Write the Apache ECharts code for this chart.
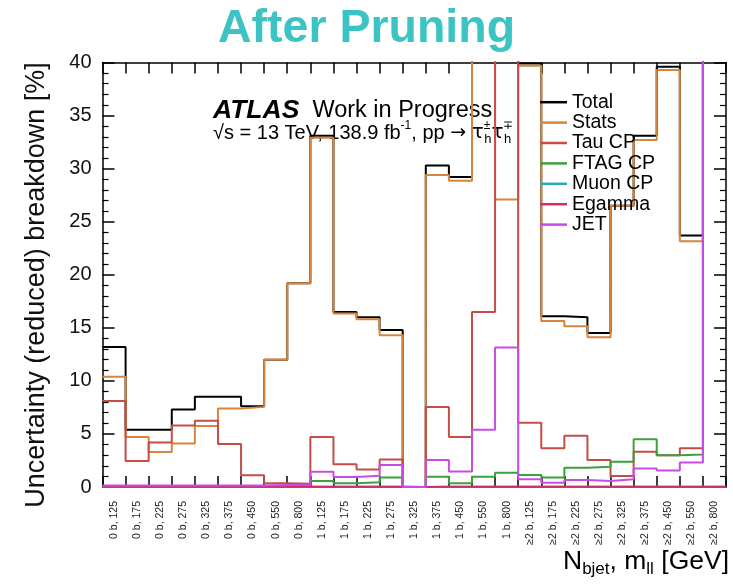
<!DOCTYPE html>
<html>
<head>
<meta charset="utf-8">
<script src="https://cdn.jsdelivr.net/npm/echarts@6/dist/echarts.min.js"></script>
<style>html,body{margin:0;padding:0;background:#fff}#c{width:733px;height:584px}</style>
</head>
<body>
<div id="c"></div>
<script>
const categories = ['0 b, 125','0 b, 175','0 b, 225','0 b, 275','0 b, 325','0 b, 375','0 b, 450','0 b, 550','0 b, 800',
  '1 b, 125','1 b, 175','1 b, 225','1 b, 275','1 b, 325','1 b, 375','1 b, 450','1 b, 550','1 b, 800',
  '≥2 b, 125','≥2 b, 175','≥2 b, 225','≥2 b, 275','≥2 b, 325','≥2 b, 375','≥2 b, 450','≥2 b, 550','≥2 b, 800'];
const yTicks = [0, 5, 10, 15, 20, 25, 30, 35, 40];
const totalVals  = [13.2, 5.4, 5.4, 7.3, 8.5, 8.5, 7.6, 12.0, 19.2, 33.1, 16.5, 16.0, 14.8, 0, 30.3, 29.2, 48, 48, 39.9, 16.1, 16.0, 14.5, 26.5, 33.1, 39.6, 23.7, 48];
const statsVals  = [10.4, 4.7, 3.3, 4.1, 5.75, 7.4, 7.55, 12.0, 19.2, 32.9, 16.35, 15.8, 14.3, 0, 29.4, 28.85, 48, 27.1, 39.7, 15.65, 15.15, 14.1, 26.5, 32.7, 39.3, 23.15, 48];
const tauVals    = [8.1, 2.45, 4.2, 5.8, 6.25, 4.05, 1.1, 0.35, 0.3, 4.7, 2.15, 1.65, 2.6, 0, 7.55, 4.7, 16.5, 48, 6.05, 3.64, 4.83, 2.54, 1.03, 3.32, 3.0, 3.64, 48];
const ftagVals   = [0.05, 0.05, 0.05, 0.05, 0.05, 0.05, 0.05, 0.05, 0.05, 0.56, 0.35, 0.45, 0.9, 0, 0.97, 0.35, 0.97, 1.35, 1.13, 0.9, 1.82, 1.91, 2.38, 4.5, 3.0, 3.07, 48];
const muonVals   = [0.03, 0.03, 0.03, 0.03, 0.03, 0.03, 0.03, 0.03, 0.03, 0.03, 0.03, 0.03, 0.03, 0, 0.03, 0.03, 0.03, 0.03, 0.03, 0.03, 0.03, 0.03, 0.03, 0.03, 0.03, 0.03, 0.03];
const egammaVals = [0.03, 0.03, 0.03, 0.03, 0.03, 0.03, 0.03, 0.03, 0.03, 0.03, 0.03, 0.03, 0.03, 0, 0.03, 0.03, 0.03, 0.03, 0.03, 0.03, 0.03, 0.03, 0.03, 0.03, 0.03, 0.03, 0.03];
const jetVals    = [0.15, 0.15, 0.15, 0.15, 0.15, 0.15, 0.15, 0.2, 0.2, 1.44, 0.95, 1.07, 2.07, 0, 2.55, 1.45, 5.4, 13.15, 0.72, 0.4, 0.66, 0.56, 0.72, 1.75, 1.55, 2.32, 48];

const seriesDefs = [
  {name: 'Total', data: totalVals, color: '#000000'},
  {name: 'Stats', data: statsVals, color: '#d6853c'},
  {name: 'Tau CP', data: tauVals, color: '#c44d48'},
  {name: 'FTAG CP', data: ftagVals, color: '#3aa23a'},
  {name: 'Muon CP', data: muonVals, color: '#2aa8b8'},
  {name: 'Egamma', data: egammaVals, color: '#d0306a'},
  {name: 'JET', data: jetVals, color: '#c94be6'}
];

function stepData(vals) {
  const pts = [];
  vals.forEach((v, i) => { pts.push([i, v]); pts.push([i + 1, v]); });
  return pts;
}

const FONT = 'Liberation Sans, Arial, sans-serif';
const chart = echarts.init(document.getElementById('c'), null, {renderer: 'canvas'});
const yAxisCommon = {
  type: 'value', min: yTicks[0], max: yTicks[yTicks.length - 1], interval: 5,
  axisLine: {show: true, lineStyle: {color: '#000', width: 1.5}},
  axisTick: {show: true, inside: true, length: 12, lineStyle: {color: '#000', width: 1.5}},
  minorTick: {show: true, splitNumber: 5, length: 6, lineStyle: {color: '#000', width: 1.2}},
  splitLine: {show: false}
};
chart.setOption({
  animation: false,
  backgroundColor: '#fff',
  grid: {left: 102.5, right: 7, top: 62.5, bottom: 97},
  xAxis: [
    {type: 'category', data: categories, position: 'bottom', boundaryGap: true,
     axisLine: {show: true, lineStyle: {color: '#000', width: 1.5}},
     axisTick: {show: true, inside: true, length: 11, interval: 0, alignWithLabel: false, lineStyle: {color: '#000', width: 1.5}},
     axisLabel: {show: true, interval: 0, rotate: 90, fontSize: 10.5, color: '#222', margin: 14, fontFamily: FONT},
     splitLine: {show: false}},
    {type: 'value', min: 0, max: 27, interval: 1, position: 'top',
     axisLine: {show: true, onZero: false, lineStyle: {color: '#000', width: 1.5}},
     axisTick: {show: true, inside: true, length: 11, lineStyle: {color: '#000', width: 1.5}},
     axisLabel: {show: false}, splitLine: {show: false}}
  ],
  yAxis: [
    Object.assign({}, yAxisCommon, {position: 'left',
      axisLabel: {show: true, fontSize: 20, color: '#111', margin: 11, fontFamily: FONT}}),
    Object.assign({}, yAxisCommon, {position: 'right', axisLabel: {show: false}})
  ],
  legend: {
    orient: 'vertical', left: 535, top: 87, itemGap: 0,
    itemWidth: 27, itemHeight: 2.5, icon: 'rect',
    textStyle: {fontSize: 19.5, color: '#000', fontFamily: FONT, lineHeight: 20.4},
    data: seriesDefs.map(s => s.name)
  },
  graphic: [
    {type: 'text', left: 'center', top: 6, style: {text: 'After Pruning', fontSize: 46.5, fontWeight: 'bold', fill: '#3cc4c4', fontFamily: FONT}},
    {type: 'text', x: 37, y: 285, rotation: Math.PI / 2,
     style: {text: 'Uncertainty (reduced) breakdown [%]', fontSize: 27, fill: '#111', fontFamily: FONT, align: 'center', verticalAlign: 'middle'}},
    {type: 'text', x: 213, y: 110.5,
     style: {text: '{b|ATLAS}{r|  Work in Progress}', verticalAlign: 'middle', fill: '#000',
       rich: {b: {fontSize: 26.5, fontWeight: 'bold', fontStyle: 'italic', fontFamily: FONT, fill: '#000'},
              r: {fontSize: 23.5, fontFamily: FONT, fill: '#000'}}}},
    {type: 'text', x: 213, y: 133,
     style: {text: '{m|√s = 13 TeV, 138.9 fb}{sup|-1}{m|, pp }{ar|→}{m| }{t|τ}{pm|±}{sub|h}{t|τ}{pm|∓}{sub|h}', verticalAlign: 'middle', fill: '#000',
       rich: {m: {fontSize: 20, fontFamily: FONT, lineHeight: 26, fill: '#000'},
              ar: {fontSize: 19, fontFamily: 'DejaVu Sans, sans-serif', lineHeight: 26, fill: '#000'},
              t: {fontSize: 20, fontFamily: 'DejaVu Sans, sans-serif', lineHeight: 26, fill: '#000'},
              sup: {fontSize: 12, fontFamily: FONT, lineHeight: 12, verticalAlign: 'top', fill: '#000'},
              pm: {fontSize: 12, fontFamily: FONT, lineHeight: 12, verticalAlign: 'top', width: 0.5, fill: '#000'},
              sub: {fontSize: 13, fontFamily: FONT, lineHeight: 13, verticalAlign: 'bottom', fill: '#000'}}}},
    {type: 'text', x: 563, y: 574,
     style: {text: '{a|N}{s|bjet}{a|, m}{s|ll}{a| [GeV]}', verticalAlign: 'bottom', fill: '#000',
       rich: {a: {fontSize: 26.5, fontFamily: FONT, lineHeight: 26, verticalAlign: 'top', fill: '#000'},
              s: {fontSize: 17, fontFamily: FONT, lineHeight: 17, verticalAlign: 'top', padding: [13, 0, 0, 0], fill: '#000'}}}}
  ],
  series: seriesDefs.map(s => ({
    name: s.name, type: 'line', xAxisIndex: 1, yAxisIndex: 0,
    data: stepData(s.data), showSymbol: false, symbol: 'none', clip: true,
    color: s.color, lineStyle: {color: s.color, width: 2}, itemStyle: {color: s.color}
  }))
});
</script>
</body>
</html>
